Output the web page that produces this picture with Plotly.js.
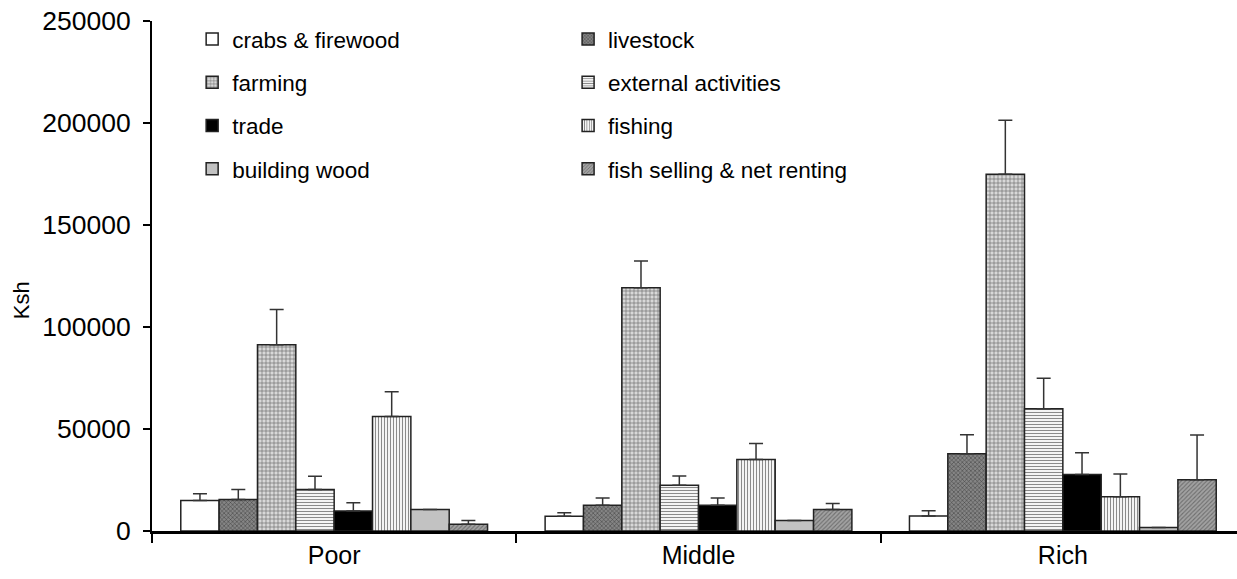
<!DOCTYPE html>
<html>
<head>
<meta charset="utf-8">
<script src="https://cdn.plot.ly/plotly-3.0.1.min.js"></script>
<style>
  html, body { margin: 0; padding: 0; background: #fff; }
  #chart { width: 1237px; height: 579px; }
</style>
</head>
<body>
<div id="chart"></div>
<script>
// ---- data ----
const categories = ["Poor", "Middle", "Rich"];

const seriesNames = [
  "crabs & firewood", "livestock", "farming", "external activities",
  "trade", "fishing", "building wood", "fish selling & net renting"
];

const crabsFirewood      = [15000, 7200, 7300];
const livestock          = [15500, 12600, 37900];
const farming            = [91300, 119200, 174900];
const externalActivities = [20400, 22400, 59900];
const trade              = [9800, 12600, 27700];
const fishing            = [56100, 35100, 16800];
const buildingWood       = [10600, 5200, 1700];
const fishSelling        = [3300, 10600, 25100];

const crabsFirewoodErr      = [3300, 1800, 2600];
const livestockErr          = [4900, 3600, 9300];
const farmingErr            = [17300, 13200, 26400];
const externalActivitiesErr = [6400, 4600, 15000];
const tradeErr              = [4100, 3600, 10600];
const fishingErr            = [12200, 7800, 11100];
const buildingWoodErr       = [0, 0, 0];
const fishSellingErr        = [1800, 2900, 21900];

const yTicks = [0, 50000, 100000, 150000, 200000, 250000];
const yTitle = "Ksh";

// ---- styles ----
const values = [crabsFirewood, livestock, farming, externalActivities, trade, fishing, buildingWood, fishSelling];
const errors = [crabsFirewoodErr, livestockErr, farmingErr, externalActivitiesErr, tradeErr, fishingErr, buildingWoodErr, fishSellingErr];

const styles = [
  {color: "#ffffff", pattern: {shape: ""}},
  {color: "#7a7a7a", pattern: {shape: "x", bgcolor: "#858585", fgcolor: "#3c3c3c", size: 3, solidity: 0.3}},
  {color: "#cfcfcf", pattern: {shape: "+", bgcolor: "#d8d8d8", fgcolor: "#6a6a6a", size: 4, solidity: 0.3}},
  {color: "#e8e8e8", pattern: {shape: "-", bgcolor: "#f4f4f4", fgcolor: "#8a8a8a", size: 3, solidity: 0.35}},
  {color: "#000000", pattern: {shape: ""}},
  {color: "#e8e8e8", pattern: {shape: "|", bgcolor: "#f4f4f4", fgcolor: "#8a8a8a", size: 3, solidity: 0.35}},
  {color: "#cccccc", pattern: {shape: "|", bgcolor: "#d4d4d4", fgcolor: "#b0b0b0", size: 2, solidity: 0.5}},
  {color: "#999999", pattern: {shape: "/", bgcolor: "#a2a2a2", fgcolor: "#6e6e6e", size: 3, solidity: 0.35}}
];

const font = "Liberation Sans, Arial, sans-serif";

const traces = seriesNames.map((name, i) => ({
  type: "bar",
  name: name,
  x: categories,
  y: values[i],
  legend: (i % 2 === 0) ? "legend" : "legend2",
  legendgroup: "g" + i,
  marker: {
    color: styles[i].color,
    pattern: styles[i].pattern,
    line: {color: "#222222", width: 1.5}
  },
  error_y: {
    type: "data",
    symmetric: false,
    array: errors[i],
    arrayminus: errors[i].map(() => 0),
    visible: true,
    color: "#333333",
    thickness: 1.5,
    width: 7
  },
  hoverinfo: "x+y+name"
}));

const legendCommon = {
  font: {family: font, size: 22.5, color: "#000"},
  bgcolor: "rgba(0,0,0,0)",
  borderwidth: 0,
  yref: "paper",
  xref: "paper",
  y: 1.006,
  yanchor: "top",
  xanchor: "left",
  tracegroupgap: 11,
  orientation: "v"
};

const layout = {
  width: 1237,
  height: 579,
  margin: {l: 152, r: 0, t: 21, b: 48},
  paper_bgcolor: "#ffffff",
  plot_bgcolor: "#ffffff",
  font: {family: font, size: 25, color: "#000"},
  barmode: "group",
  bargap: 0.158,
  bargroupgap: 0,
  showlegend: true,
  legend: Object.assign({}, legendCommon, {x: 0.037}),
  legend2: Object.assign({}, legendCommon, {x: 0.3835}),
  xaxis: {
    type: "category",
    range: [-0.5, 2.478],
    showline: true,
    linecolor: "#000",
    linewidth: 2.5,
    ticks: "outside",
    tickson: "boundaries",
    ticklen: 9,
    tickwidth: 2,
    tickcolor: "#000",
    showgrid: false,
    zeroline: false,
    tickfont: {family: font, size: 25, color: "#000"}
  },
  yaxis: {
    range: [0, 250000],
    tickvals: yTicks,
    ticktext: yTicks.map(String),
    showline: true,
    linecolor: "#000",
    linewidth: 2,
    ticks: "outside",
    ticklen: 7,
    tickwidth: 2,
    tickcolor: "#000",
    showgrid: false,
    zeroline: false,
    ticklabelstandoff: 7,
    tickfont: {family: font, size: 26.5, color: "#000"}
  },
  annotations: [{
    text: yTitle,
    xref: "paper", yref: "paper",
    x: 0, y: 0.4525,
    xshift: -131,
    xanchor: "center", yanchor: "middle",
    textangle: -90,
    showarrow: false,
    font: {family: font, size: 22, color: "#000"}
  }]
};

Plotly.newPlot("chart", traces, layout, {staticPlot: true, displayModeBar: false});
</script>
</body>
</html>
